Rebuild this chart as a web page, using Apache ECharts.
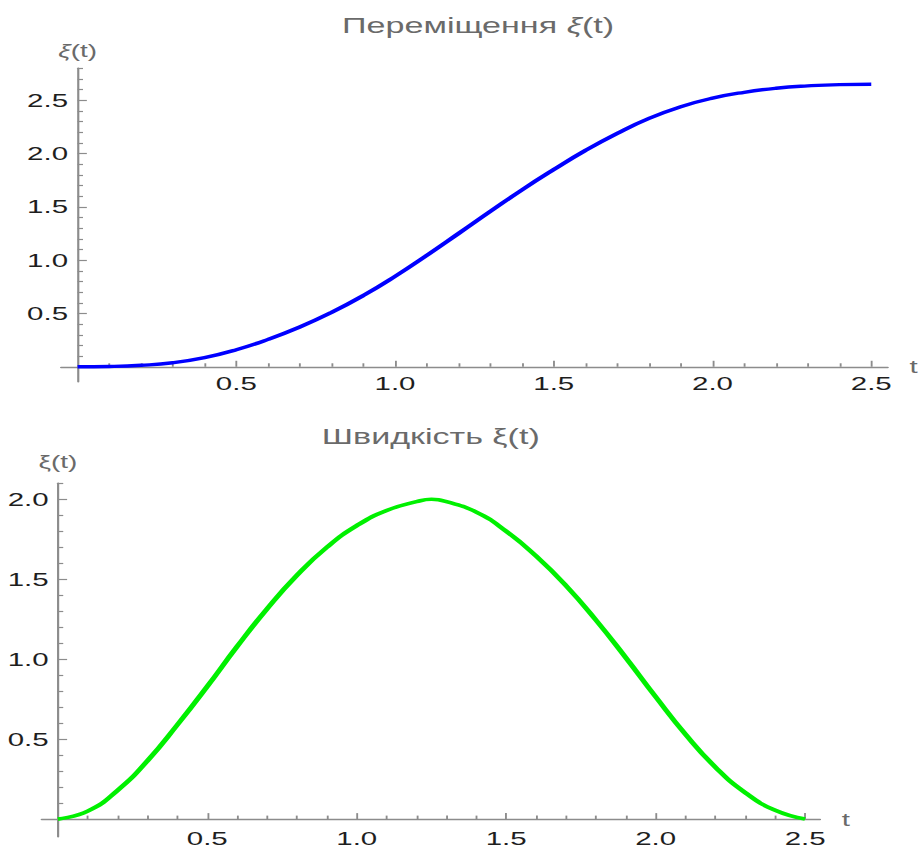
<!DOCTYPE html>
<html>
<head>
<meta charset="utf-8">
<script src="https://cdn.jsdelivr.net/npm/echarts@6/dist/echarts.min.js"></script>
<style>
html,body{margin:0;padding:0;background:#fff;overflow:hidden;}
#wrap{width:922px;height:848px;overflow:hidden;position:relative;}
#c{width:595px;height:848px;transform:scaleX(1.5496);transform-origin:0 0;position:absolute;left:0;top:0;}
</style>
</head>
<body>
<div id="wrap"><div id="c"></div></div>
<script>
// ---- data ----
const tDisp = [0,0.1,0.2,0.3,0.4,0.5,0.6,0.7,0.8,0.9,1.0,1.1,1.2,1.3,1.4,1.5,1.6,1.7,1.8,1.9,2.0,2.1,2.2,2.3,2.4,2.5];
const displacement = [0,0.003,0.014,0.038,0.086,0.16,0.257,0.373,0.51,0.668,0.848,1.045,1.25,1.457,1.66,1.85,2.03,2.19,2.33,2.44,2.52,2.575,2.613,2.635,2.647,2.65];
const tVel = [0,0.1,0.2,0.3,0.4,0.5,0.6,0.7,0.8,0.9,1.0,1.1,1.2,1.25,1.3,1.4,1.5,1.6,1.7,1.8,1.9,2.0,2.1,2.2,2.3,2.4,2.5];
const velocity = [0,0.05,0.18,0.365,0.59,0.83,1.08,1.315,1.525,1.70,1.835,1.93,1.985,2.0,1.985,1.92,1.80,1.645,1.46,1.245,1.01,0.765,0.53,0.325,0.165,0.055,0];

const xMajorTicks = [0.5,1.0,1.5,2.0,2.5];
const xMinorTicks = [0.1,0.2,0.3,0.4,0.6,0.7,0.8,0.9,1.1,1.2,1.3,1.4,1.6,1.7,1.8,1.9,2.1,2.2,2.3,2.4];
const yMajorTop = [0.5,1.0,1.5,2.0,2.5];
const yMinorTop = [0.1,0.2,0.3,0.4,0.6,0.7,0.8,0.9,1.1,1.2,1.3,1.4,1.6,1.7,1.8,1.9,2.1,2.2,2.3,2.4,2.6,2.7,2.8];
const yMajorBottom = [0.5,1.0,1.5,2.0];
const yMinorBottom = [0.1,0.2,0.3,0.4,0.6,0.7,0.8,0.9,1.1,1.2,1.3,1.4,1.6,1.7,1.8,1.9,2.1];

const titleTop = 'Переміщення {i|ξ}(t)';
const titleBottom = 'Швидкість ξ(t)';

// ---- styles ----
const AX = '#8c8c8c';
const LBL = '#1e1e1e';
const GRAY = '#6a6a6a';
const FONT = '"Liberation Sans", Arial, sans-serif';

function pairs(xs, ys){ return xs.map((x,i)=>[x, ys[i]]); }

function xAxes(grid, xmin, xmax){
  return [
    {
      gridIndex: grid, type:'value', position:'bottom', min:xmin, max:xmax,
      axisLine:{show:true, onZero:true, lineStyle:{color:AX, width:1.4}},
      axisTick:{show:true, inside:true, length:6, customValues:xMajorTicks, lineStyle:{color:AX, width:1.2}},
      axisLabel:{show:true, customValues:xMajorTicks, margin:-8, color:LBL, fontSize:19, fontFamily:FONT,
                 formatter:v=>Number(v).toFixed(1)},
      splitLine:{show:false},
      name:'t', nameLocation:'end', nameGap:14,
      nameTextStyle:{color:GRAY, fontSize:19, fontFamily:FONT, verticalAlign:'middle'}
    },
    {
      gridIndex: grid, type:'value', position:'bottom', min:xmin, max:xmax,
      axisLine:{show:false, onZero:true},
      axisTick:{show:true, inside:true, length:3.5, customValues:xMinorTicks, lineStyle:{color:AX, width:1.2}},
      axisLabel:{show:false},
      splitLine:{show:false}
    }
  ];
}
function yAxes(grid, ymin, ymax, majors, minors, nameText, rich, gap){
  return [
    {
      gridIndex: grid, type:'value', position:'left', min:ymin, max:ymax,
      axisLine:{show:true, onZero:true, lineStyle:{color:AX, width:1.4}},
      axisTick:{show:true, inside:true, length:6, customValues:majors, lineStyle:{color:AX, width:1.2}},
      axisLabel:{show:true, customValues:majors, margin:-4.5, color:LBL, fontSize:19, fontFamily:FONT,
                 formatter:v=>Number(v).toFixed(1)},
      splitLine:{show:false},
      name:nameText, nameLocation:'end', nameGap:gap,
      nameTextStyle:{color:GRAY, fontSize:18, fontFamily:FONT, rich:rich}
    },
    {
      gridIndex: grid, type:'value', position:'left', min:ymin, max:ymax,
      axisLine:{show:false, onZero:true},
      axisTick:{show:true, inside:true, length:3.5, customValues:minors, lineStyle:{color:AX, width:1.2}},
      axisLabel:{show:false},
      splitLine:{show:false}
    }
  ];
}

const chart = echarts.init(document.getElementById('c'), null, {renderer:'svg'});
const italic = {i:{fontStyle:'italic', color:GRAY, fontSize:18, fontFamily:FONT}};
chart.setOption({
  animation:false,
  backgroundColor:'#fff',
  title:[
    {text:titleTop, left:303.5, top:9, textAlign:'center',
     textStyle:{color:GRAY, fontSize:22, fontWeight:'normal', fontFamily:FONT,
                rich:{i:{fontStyle:'italic', color:GRAY, fontSize:22, fontFamily:FONT}}}},
    {text:titleBottom, left:273, top:420, textAlign:'center',
     textStyle:{color:GRAY, fontSize:22, fontWeight:'normal', fontFamily:FONT}}
  ],
  grid:[
    {left:39.4, top:68.3, width:533.5, height:313.4, containLabel:false},
    {left:26.9, top:483.3, width:502.3, height:353.4, containLabel:false}
  ],
  xAxis:[].concat(xAxes(0,-0.052,2.552), xAxes(1,-0.054,2.55)),
  yAxis:[].concat(
    yAxes(0,-0.14,2.8,yMajorTop,yMinorTop,'{i|ξ}(t)',italic,8),
    yAxes(1,-0.11,2.1,yMajorBottom,yMinorBottom,'ξ(t)',null,12)
  ),
  series:[
    {type:'line', xAxisIndex:0, yAxisIndex:0, data:pairs(tDisp, displacement),
     showSymbol:false, smooth:0.5, lineStyle:{color:'#0000ff', width:3.4}},
    {type:'line', xAxisIndex:2, yAxisIndex:2, data:pairs(tVel, velocity),
     showSymbol:false, smooth:0.5, lineStyle:{color:'#00f000', width:3.6}}
  ]
});
</script>
</body>
</html>
